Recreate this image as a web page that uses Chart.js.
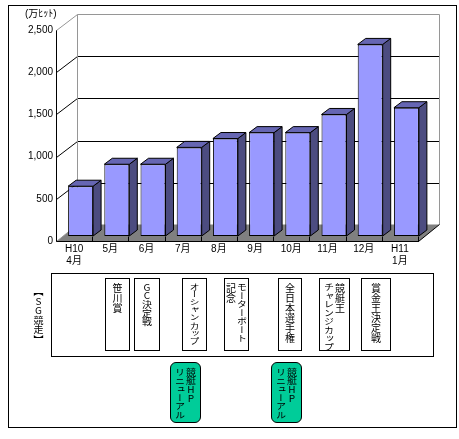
<!DOCTYPE html>
<html lang="ja">
<head>
<meta charset="utf-8">
<style>
html,body{margin:0;padding:0;background:#fff;}
#wrap{position:relative;width:459px;height:439px;overflow:hidden;font-family:"Liberation Sans","Noto Sans CJK JP",sans-serif;}
canvas{position:absolute;left:0;top:0;}
.frame,.band,.box,.hp,.side{position:absolute;box-sizing:border-box;}
.frame{border:1px solid #000;left:8px;top:5px;width:449px;height:423px;}
.band{border:1px solid #000;left:51px;top:273px;width:383px;height:84px;background:#fff;}
.box,.hp{display:flex;flex-direction:row-reverse;justify-content:center;align-items:flex-start;border:1px solid #000;}
.box{top:278px;height:73px;background:#fff;padding-top:4px;}
.hp{top:362px;height:61px;background:#00CC99;border-radius:6px;padding-top:5px;}
.col,.side{writing-mode:vertical-rl;color:#000;font-family:"Noto Sans CJK JP",sans-serif;font-size:10px;line-height:11px;white-space:pre;transform-origin:top center;}
.col{display:block;width:11px;}
.side{left:33px;top:287px;transform:scaleY(.95);}
.u{text-orientation:upright;}
</style>
</head>
<body>
<div id="wrap">
<canvas id="c" width="459" height="439"></canvas>
<div class="frame"></div>
<div class="band"></div>
<div class="side u">【SG競走】</div>
<div id="notes"></div>
</div>
<script src="https://cdn.jsdelivr.net/npm/chart.js@4"></script>
<script>
const categories = [["H10","4月"],"5月","6月","7月","8月","9月","10月","11月","12月",["H11","1月"]];
const hits = [590,850,850,1050,1155,1225,1225,1440,2270,1520];
const yTicks = [0,500,1000,1500,2000,2500];
const unitLabel = "(万ﾋｯﾄ)";
const sgEvents = [["笹川賞"],["GC決定戦"],["オーシャン カップ"],["モーターボート","記念"],["全日本選手権"],["競艇王","チャレンジカップ"],["賞金王決定戦"]];
const renewalLines = ["競艇HP","リニューアル"];
const renewalCount = 2;

// layout only
const sgBoxX = [[105,25],[134,26],[182,25],[224,25],[278,24],[319,31],[361,30]];
const hpBoxX = [[170,31],[271,31]];
function squeeze(t){
  if(/^[GH]/.test(t)||t==="競艇HP") return .87;
  if(t.indexOf(' ')>=0) return .75;
  if(t.length>=6 && /[ァ-ヶー]/.test(t)) return .85;
  return 1;
}
function fill(el,lines){
  lines.forEach(t=>{
    const s=document.createElement('span');
    s.className='col'+(/[A-Z]/.test(t)?' u':'');
    s.style.transform='scaleY('+squeeze(t)+')';
    s.textContent=t;
    el.appendChild(s);
  });
}
const notes = document.getElementById('notes');
sgEvents.forEach((lines,i)=>{
  const d=document.createElement('div');
  d.className='box';
  d.style.left=sgBoxX[i][0]+'px'; d.style.width=sgBoxX[i][1]+'px';
  fill(d,lines);
  notes.appendChild(d);
});
for(let i=0;i<renewalCount;i++){
  const d=document.createElement('div');
  d.className='hp';
  d.style.left=hpBoxX[i][0]+'px'; d.style.width=hpBoxX[i][1]+'px';
  fill(d,renewalLines);
  notes.appendChild(d);
}

const DEPTH_X=21, DEPTH_Y=16, BAR_DX=6.5, BAR_DY=-5, SIDE_X=8, SIDE_Y=6;
const COLORS={front:'#9999FF',side:'#4C4C80',top:'#6666B3',floor:'#808080',wall:'#969696'};

function poly(ctx,pts,fill,stroke){
  ctx.beginPath();
  pts.forEach((p,i)=>i?ctx.lineTo(p[0],p[1]):ctx.moveTo(p[0],p[1]));
  ctx.closePath();
  if(fill){ctx.fillStyle=fill;ctx.fill();}
  if(stroke){ctx.strokeStyle=stroke;ctx.lineWidth=1;ctx.stroke();}
}
function line(ctx,x1,y1,x2,y2,c){
  ctx.beginPath();ctx.moveTo(x1,y1);ctx.lineTo(x2,y2);ctx.strokeStyle=c;ctx.lineWidth=1;ctx.stroke();
}

const box3d={
  id:'box3d',
  beforeDatasetsDraw(chart){
    const {ctx,chartArea:a,scales:{y}}=chart;
    ctx.save();
    const L=a.left+.5,R=a.right+.5,B=a.bottom+.5;
    poly(ctx,[[L,B],[R,B],[R+DEPTH_X,B-DEPTH_Y-1],[L+DEPTH_X,B-DEPTH_Y-1]],COLORS.floor);
    yTicks.forEach(v=>{
      const py=Math.round(y.getPixelForValue(v))+.5;
      const c=v===2500?COLORS.wall:'#000';
      if(v>0){
        line(ctx,L,py,L+DEPTH_X,py-DEPTH_Y,c);
        line(ctx,L+DEPTH_X,py-DEPTH_Y,R+DEPTH_X,py-DEPTH_Y,c);
      }
    });
    const top=Math.round(y.getPixelForValue(2500))+.5-DEPTH_Y;
    line(ctx,L+DEPTH_X,top,L+DEPTH_X,B-DEPTH_Y-1,COLORS.wall);
    line(ctx,R+DEPTH_X,top,R+DEPTH_X,B-DEPTH_Y-1,COLORS.wall);
    line(ctx,L,B,L+DEPTH_X,B-DEPTH_Y-1,COLORS.wall);
    line(ctx,R,B,R+DEPTH_X,B-DEPTH_Y-1,'#000');
    const step=(a.right-a.left)/categories.length;
    for(let i=1;i<=categories.length;i++){
      const px=Math.round(a.left+step*i)+.5;
      line(ctx,px,B,px,B+BAR_DY,'#000');
    }
    line(ctx,L,B,R,B,'#000');
    ctx.restore();
    ctx.save();
    ctx.translate(BAR_DX,BAR_DY);
    chart.getDatasetMeta(0).data.forEach(b=>{
      const l=b.x-b.width/2,r=b.x+b.width/2,t=b.y,bt=b.base;
      poly(ctx,[[r,t],[r+SIDE_X,t-SIDE_Y],[r+SIDE_X,bt-SIDE_Y],[r,bt]],COLORS.side,'#000');
      poly(ctx,[[l,t],[l+SIDE_X,t-SIDE_Y],[r+SIDE_X,t-SIDE_Y],[r,t]],COLORS.top,'#000');
    });
  },
  afterDatasetsDraw(chart){
    chart.ctx.restore();
    const ctx=chart.ctx;
    ctx.save();
    ctx.fillStyle='#000';
    ctx.font='10px "Liberation Sans","Noto Sans CJK JP",sans-serif';
    ctx.textAlign='left';ctx.textBaseline='middle';
    ctx.fillText(unitLabel,25,14);
    ctx.restore();
  }
};

new Chart(document.getElementById('c'),{
  type:'bar',
  data:{labels:categories,datasets:[{
    data:hits,
    backgroundColor:COLORS.front,
    borderColor:'#000',
    borderWidth:1,
    borderSkipped:false,
    barPercentage:.69,
    categoryPercentage:1,
    clip:false
  }]},
  options:{
    responsive:false,
    animation:false,
    events:[],
    layout:{autoPadding:false,padding:{top:30,right:41,left:0,bottom:0}},
    plugins:{legend:{display:false},tooltip:{enabled:false},title:{display:false}},
    scales:{
      x:{
        afterFit(s){s.height=198;},
        border:{display:true,color:'#000'},
        grid:{display:false,drawTicks:false},
        ticks:{color:'#000',maxRotation:0,minRotation:0,autoSkip:false,padding:2,
          font:{family:'"Liberation Sans","Noto Sans CJK JP",sans-serif',size:10,lineHeight:1.2}}
      },
      y:{
        min:0,max:2500,
        afterFit(s){s.width=56;},
        afterBuildTicks(s){s.ticks=yTicks.map(v=>({value:v}));},
        border:{display:true,color:'#000'},
        grid:{display:false,drawTicks:false},
        ticks:{color:'#000',padding:3,
          callback:v=>v.toLocaleString('en-US'),
          font:{family:'"Liberation Sans",sans-serif',size:10}}
      }
    }
  },
  plugins:[box3d]
});
</script>
</body>
</html>
